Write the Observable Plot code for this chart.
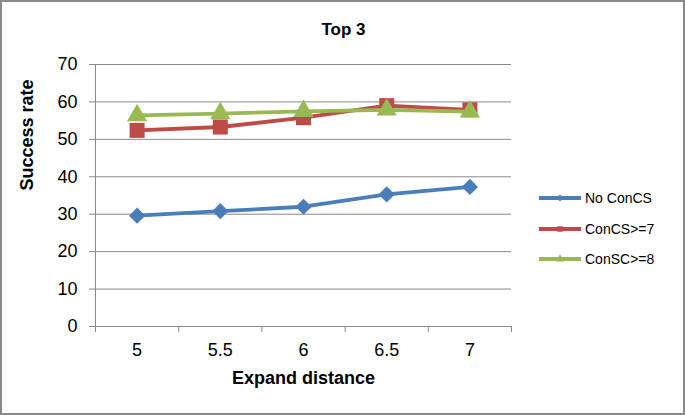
<!DOCTYPE html>
<html>
<head>
<meta charset="utf-8">
<script src="https://cdn.jsdelivr.net/npm/d3@7"></script>
<script src="https://cdn.jsdelivr.net/npm/@observablehq/plot@0.6"></script>
<style>
  body { margin: 0; background: #fff; font-family: "Liberation Sans", Arial, sans-serif; }
  #wrap { position: relative; width: 685px; height: 415px; overflow: hidden; }
  #border { position: absolute; left: 0; top: 0; width: 685px; height: 415px; box-sizing: border-box; border: 2px solid #8a8a8a; pointer-events: none; }
  #legend { position: absolute; left: 538px; top: 183px; }
  .row { display: flex; align-items: center; height: 30.5px; font-size: 14px; color: #000; }
  .row svg { margin-right: 3px; }
</style>
</head>
<body>
<div id="wrap"><div id="chart"></div><div id="legend"></div><div id="border"></div></div>
<script>
const distances = [5, 5.5, 6, 6.5, 7];
const seriesNames = ["No ConCS", "ConCS>=7", "ConSC>=8"];
const noConCS = [29.6, 30.8, 32.0, 35.3, 37.3];
const conCS7  = [52.4, 53.3, 55.8, 59.0, 57.9];
const conSC8  = [56.4, 56.9, 57.5, 57.9, 57.4];
const seriesColors = ["#4a7ebb", "#be4b48", "#98b954"];
const seriesSymbols = ["diamond2", "square", "triangle"];
const seriesR = [7.3, 8.5, 7.5];
const yTicks = [0, 10, 20, 30, 40, 50, 60, 70];
const xBounds = [4.75, 5.25, 5.75, 6.25, 6.75, 7.25];

const allValues = [noConCS, conCS7, conSC8];
const rows = [];
allValues.forEach((vals, i) => vals.forEach((v, j) => rows.push({series: seriesNames[i], idx: i, x: distances[j], y: v})));

const font = "Liberation Sans, Arial, sans-serif";
const marks = [
  Plot.gridY(yTicks, {stroke: "#8a8a8a", strokeOpacity: 1, strokeWidth: 1}),
  Plot.ruleX([4.75], {stroke: "#8a8a8a", strokeWidth: 1}),
  Plot.ruleY([0], {stroke: "#8a8a8a", strokeWidth: 1}),
  Plot.axisY(yTicks, {tickSize: 6, tickPadding: 12, fontSize: 18, stroke: "#8a8a8a", fill: "#000", tickFormat: d => String(d), label: null}),
  Plot.axisX(xBounds, {tickSize: 6, tickFormat: () => "", stroke: "#8a8a8a", label: null}),
  Plot.axisX(distances, {tickSize: 0, tickPadding: 17, fontSize: 18, fill: "#000", tickFormat: d => String(d), label: null}),
  Plot.text(["Success rate"], {frameAnchor: "left", dx: -68, dy: -5, rotate: -90, fontSize: 18, fontWeight: "bold", fill: "#000"}),
  Plot.text(["Expand distance"], {frameAnchor: "bottom", dy: 52, lineAnchor: "middle", fontSize: 18, fontWeight: "bold", fill: "#000"}),
  Plot.text(["Top 3"], {frameAnchor: "top", dx: 40, dy: -35, lineAnchor: "middle", fontSize: 17, fontWeight: "bold", fill: "#000"})
];
seriesNames.forEach((name, i) => {
  const data = rows.filter(r => r.idx === i);
  marks.push(Plot.line(data, {x: "x", y: "y", stroke: seriesColors[i], strokeWidth: 3.8}));
  marks.push(Plot.dot(data, {x: "x", y: "y", symbol: seriesSymbols[i], r: seriesR[i], fill: seriesColors[i], stroke: null}));
});

const chart = Plot.plot({
  width: 685,
  height: 415,
  marginLeft: 95,
  marginRight: 174,
  marginTop: 64,
  marginBottom: 89,
  style: {fontFamily: font, background: "#fff", overflow: "visible"},
  x: {domain: [4.75, 7.25], axis: null},
  y: {domain: [0, 70], axis: null},
  marks
});
document.getElementById("chart").appendChild(chart);

const legend = document.getElementById("legend");
seriesNames.forEach((name, i) => {
  const row = document.createElement("div");
  row.className = "row";
  const svg = d3.create("svg").attr("width", 44).attr("height", 12);
  svg.append("line").attr("x1", 1).attr("x2", 43).attr("y1", 6).attr("y2", 6).attr("stroke", seriesColors[i]).attr("stroke-width", 3.8);
  const symMap = {diamond2: d3.symbolDiamond2, square: d3.symbolSquare, triangle: d3.symbolTriangle};
  svg.append("path").attr("d", d3.symbol(symMap[seriesSymbols[i]], 30)()).attr("transform", "translate(22,6)").attr("fill", seriesColors[i]);
  row.appendChild(svg.node());
  const span = document.createElement("span");
  span.textContent = name;
  row.appendChild(span);
  legend.appendChild(row);
});
</script>
</body>
</html>
